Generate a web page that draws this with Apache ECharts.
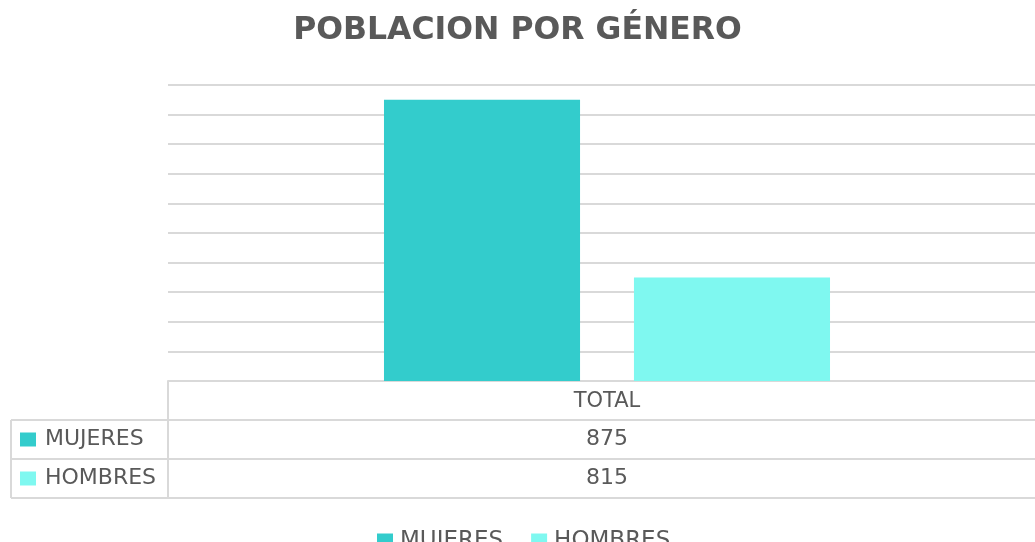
<!DOCTYPE html>
<html><head><meta charset="utf-8">
<script src="https://cdn.jsdelivr.net/npm/echarts@6/dist/echarts.min.js"></script>
<style>html,body{margin:0;padding:0;background:#fff;}#c{width:1035px;height:542px;}</style>
</head><body><div id="c"></div>
<script>
const titleText = 'POBLACION POR GÉNERO';
const categories = ['TOTAL'];
const seriesNames = ['MUJERES', 'HOMBRES'];
const mujeres = [875];
const hombres = [815];
const colors = ['#33CCCC', '#7FF8F0'];

const chart = echarts.init(document.getElementById('c'));
const font = '"DejaVu Sans", "Open Sans", sans-serif';
const txt = '#595959';
const line = '#D9D9D9';

const gLeft = 168, gWidth = 878, rowTop = 381, rowH = 39, tblLeft = 11, tblRight = 1035;
const centerX = gLeft + gWidth / 2;
const values = [mujeres, hombres];
const graphics = [];
graphics.push({type:'line', shape:{x1:gLeft, y1:rowTop, x2:gLeft, y2:rowTop+3*rowH}, style:{stroke:line, lineWidth:2}});
graphics.push({type:'line', shape:{x1:tblLeft, y1:rowTop+rowH, x2:tblLeft, y2:rowTop+3*rowH}, style:{stroke:line, lineWidth:2}});
for (let r = 1; r <= 3; r++) {
  graphics.push({type:'line', shape:{x1:tblLeft, y1:rowTop+r*rowH, x2:tblRight, y2:rowTop+r*rowH}, style:{stroke:line, lineWidth:2}});
}
seriesNames.forEach((n, i) => {
  const cy = rowTop + (i+1)*rowH + rowH/2;
  graphics.push({type:'rect', shape:{x:20, y:cy-7, width:16, height:14}, style:{fill:colors[i]}});
  graphics.push({type:'text', x:45, y:cy, style:{text:n, font:'22px ' + font, fill:txt, verticalAlign:'middle', align:'left'}});
  graphics.push({type:'text', x:centerX, y:cy, style:{text:String(values[i][0]), font:'22px ' + font, fill:txt, verticalAlign:'middle', align:'center'}});
});

chart.setOption({
  animation:false,
  title:{text:titleText, left:'center', top:10, textStyle:{fontFamily:font, fontWeight:'bold', fontSize:31.5, color:txt}},
  grid:{left:gLeft, width:gWidth, top:85, height:381-85, containLabel:false, outerBoundsMode:'none'},
  legend:{top:525, left:372, itemWidth:16, itemHeight:16, itemGap:28, icon:'rect',
    textStyle:{fontFamily:font, fontSize:23, color:txt, padding:[0,0,0,2]}, data:seriesNames},
  xAxis:{type:'category', data:categories,
    axisLine:{lineStyle:{color:line, width:2}}, axisTick:{show:false},
    axisLabel:{fontFamily:font, fontSize:21, color:txt, margin:10}},
  yAxis:{type:'value', min:780, max:880, interval:10,
    axisLabel:{show:false}, axisLine:{show:false}, axisTick:{show:false},
    splitLine:{lineStyle:{color:line, width:2}}},
  series:[
    {name:seriesNames[0], type:'bar', data:mujeres, itemStyle:{color:colors[0]}, barGap:'27.5%', barCategoryGap:'49.2%'},
    {name:seriesNames[1], type:'bar', data:hombres, itemStyle:{color:colors[1]}}
  ],
  graphic:graphics
});
</script></body></html>
